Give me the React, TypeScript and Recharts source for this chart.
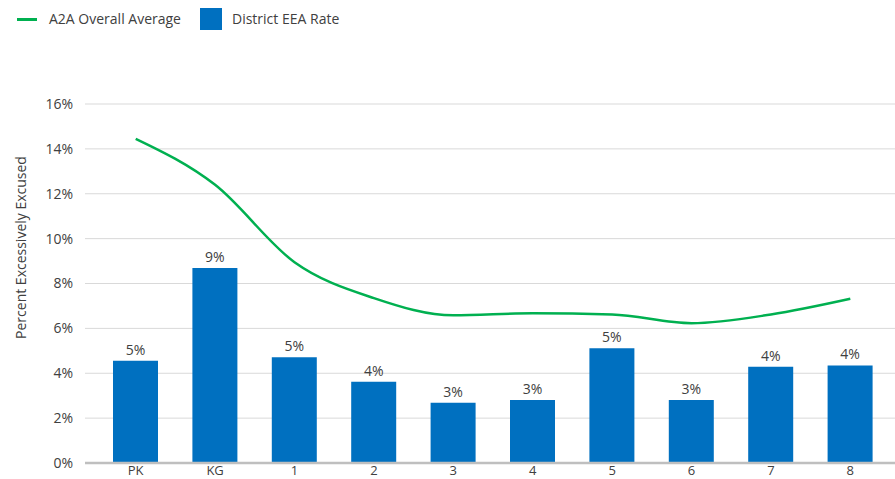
import React from "react";
import { ComposedChart, Bar, Line, XAxis, YAxis, CartesianGrid, Legend, LabelList, Label } from "recharts";

const categories = ["PK", "KG", "1", "2", "3", "4", "5", "6", "7", "8"];
const districtRate = [4.56, 8.69, 4.71, 3.62, 2.69, 2.81, 5.11, 2.81, 4.29, 4.35];
const a2aAverage = [14.45, 12.4, 8.95, 7.35, 6.58, 6.67, 6.62, 6.23, 6.62, 7.32];
const yTicks = [0, 2, 4, 6, 8, 10, 12, 14, 16];

const data = categories.map((c, i) => ({ grade: c, rate: districtRate[i], avg: a2aAverage[i] }));

const FONT = "'Open Sans', 'Noto Sans', sans-serif";
const BLUE = "#0070c0";
const GREEN = "#00b050";
const TEXT = "#404040";

const LegendContent = () => (
  <div style={{ height: 40, position: "relative", fontFamily: FONT, fontSize: 14, color: TEXT }}>
    <div style={{ position: "absolute", left: 17, top: 18, width: 20, height: 3, background: GREEN }} />
    <div style={{ position: "absolute", left: 49, top: 9, whiteSpace: "nowrap", lineHeight: "20px" }}>A2A Overall Average</div>
    <div style={{ position: "absolute", left: 200, top: 8, width: 22, height: 22, background: BLUE }} />
    <div style={{ position: "absolute", left: 232, top: 9, whiteSpace: "nowrap", lineHeight: "20px" }}>District EEA Rate</div>
  </div>
);

const YLabel = (props: any) => {
  const vb = props.viewBox || {};
  const cx = vb.x + 20;
  const cy = vb.y + vb.height / 2 - 36;
  return (
    <text x={cx} y={cy} transform={`rotate(-90 ${cx} ${cy})`} textAnchor="middle" dominantBaseline="central"
      fontFamily={FONT} fontSize={14} fill={TEXT}>
      Percent Excessively Excused
    </text>
  );
};

export default function App() {
  return (
    <div style={{ position: "absolute", left: 0, top: 0, width: 895, height: 479, background: "#fff" }}>
      <ComposedChart width={895} height={479} data={data} margin={{ top: 64, right: 0, bottom: 0, left: 0 }}>
        <CartesianGrid vertical={false} stroke="#d9d9d9" strokeWidth={1} />
        <Legend verticalAlign="top" align="left" content={<LegendContent />} wrapperStyle={{ top: 0, left: 0, width: 895, height: 40 }} />
        <XAxis dataKey="grade" height={16} tickSize={0} tickMargin={3} padding={{ left: 11, right: 5 }}
          axisLine={{ stroke: "#bfbfbf", strokeWidth: 2.5 }} tickLine={false}
          tick={{ fontFamily: FONT, fontSize: 13, fill: TEXT }} interval={0} />
        <YAxis width={85} domain={[0, 16]} ticks={yTicks} tickFormatter={(v: number) => `${v}%`}
          axisLine={false} tickLine={false} tickSize={0} tickMargin={12}
          tick={{ fontFamily: FONT, fontSize: 14, fill: TEXT }}>
          <Label content={<YLabel />} />
        </YAxis>
        <Bar dataKey="rate" name="District EEA Rate" fill={BLUE} barSize={45} isAnimationActive={false}>
          <LabelList dataKey="rate" position="top" offset={6} formatter={(v: number) => `${Math.round(v)}%`}
            style={{ fontFamily: FONT, fontSize: 14, fill: TEXT }} />
        </Bar>
        <Line dataKey="avg" name="A2A Overall Average" type="monotone" stroke={GREEN} strokeWidth={2.5}
          dot={false} activeDot={false} isAnimationActive={false} />
      </ComposedChart>
    </div>
  );
}
